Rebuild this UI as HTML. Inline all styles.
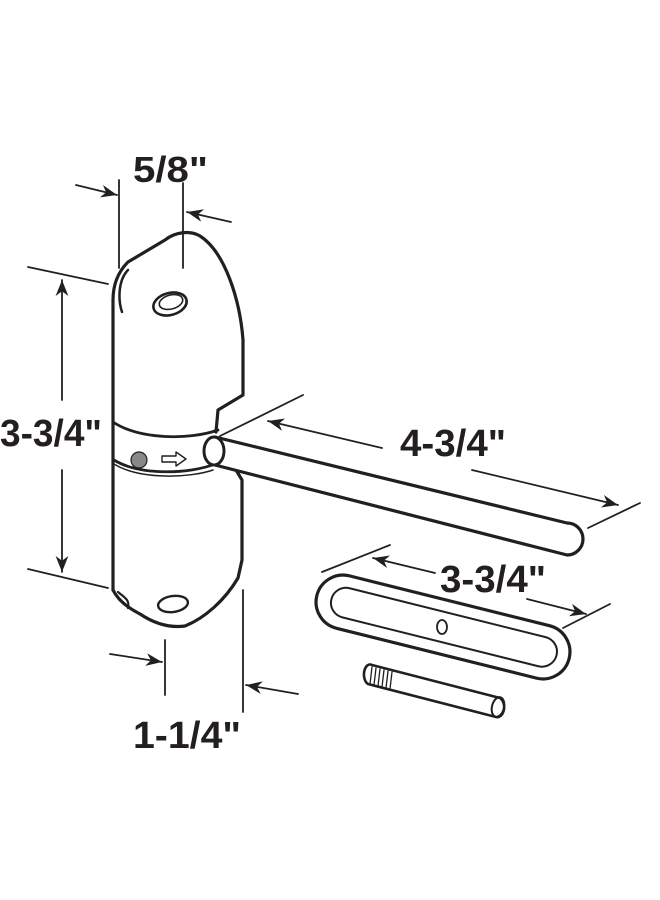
<!DOCTYPE html>
<html><head><style>
html,body{margin:0;padding:0;background:#fff;}
svg{display:block;}
text{font-family:"Liberation Sans",sans-serif;font-weight:bold;fill:#231f20;}
</style></head><body>
<svg width="660" height="900" viewBox="0 0 660 900" xmlns="http://www.w3.org/2000/svg">
<defs>
<marker id="ah2" viewBox="0 0 10 10" refX="10" refY="5" markerWidth="16" markerHeight="16" markerUnits="userSpaceOnUse" orient="auto">
<path d="M0,1 L10,5 L0,9 L3,5 z" fill="#231f20"/>
</marker>
</defs>
<g stroke="#231f20" fill="none" stroke-linecap="round" stroke-linejoin="round">
<!-- body -->
<path d="M113,590 L113,300 C113,285 118,272 128,262 L165,240 C175,232 190,230 200,236 C225,252 240,300 243,340 L243,395 L218,410 L216,432" stroke-width="3.2" fill="#fff"/>
<path d="M128,270 C118,280 118,300 122,312" stroke-width="2.5"/>
<!-- collar -->
<path d="M113,422 C140,440 190,440 218,430" stroke-width="2.8"/>
<path d="M114,460 C140,476 190,474 215,464" stroke-width="2.8"/>
<path d="M114,464 C140,480 190,478 213,470" stroke-width="1.5"/>
<!-- lower body -->
<path d="M113,590 C118,600 128,608 140,614 C155,624 170,628 185,626 C205,618 225,600 238,578 L242,560 L242,480 L236,470" stroke-width="3.2"/>
<path d="M118,592 C125,598 130,600 128,608" stroke-width="2.2"/>
<!-- holes -->
<ellipse cx="170" cy="304" rx="17" ry="11" transform="rotate(-15 170 304)" stroke-width="2.6"/>
<ellipse cx="171" cy="302" rx="12" ry="7" transform="rotate(-15 171 302)" stroke-width="1.6"/>
<ellipse cx="173" cy="604" rx="15" ry="8" transform="rotate(-8 173 604)" stroke-width="2.4"/>
<circle cx="139" cy="460" r="8" fill="#888" stroke-width="1.2"/>
<path d="M162,456 L176,456 L176,452 L186,459 L176,466 L176,462 L162,462 z" stroke-width="1.4" fill="#fff"/>
<!-- rod -->
<path d="M215,437 L567,523 A16,16 0 0 1 567,555 L215,465" stroke-width="3.2" fill="#fff"/>
<ellipse cx="214" cy="451" rx="10" ry="14" stroke-width="3" fill="#fff"/>
<!-- clip -->
<g transform="rotate(14 443 627)">
<rect x="313" y="600" width="260" height="54" rx="27" stroke-width="3.2" fill="#fff"/>
<rect x="328" y="612" width="232" height="30" rx="15" stroke-width="2"/>
</g>
<ellipse cx="442" cy="627" rx="5" ry="7" stroke-width="1.8"/>
<!-- screw -->
<path d="M372,665 L500,698 A7,10 0 0 1 496,717 L368,684 A6,10 0 0 1 372,665 z" stroke-width="2.6" fill="#fff"/>
<ellipse cx="498" cy="707" rx="6" ry="10" transform="rotate(14 498 707)" stroke-width="2"/>
<g stroke-width="1.3"><path d="M372,667 L370,684 M376,668 L374,685 M380,669 L378,686 M384,670 L382,687 M388,671 L386,688 M392,672 L390,689"/></g>
<!-- dimension lines -->
<g stroke-width="1.8">
<line x1="28" y1="267" x2="108" y2="284"/>
<line x1="28" y1="569" x2="108" y2="588"/>
<line x1="62" y1="400" x2="62" y2="280" marker-end="url(#ah2)"/>
<line x1="62" y1="470" x2="62" y2="572" marker-end="url(#ah2)"/>
<line x1="119" y1="180" x2="119" y2="268"/>
<line x1="183" y1="183" x2="183" y2="268"/>
<line x1="76" y1="185" x2="117" y2="195" marker-end="url(#ah2)"/>
<line x1="231" y1="222" x2="187" y2="212" marker-end="url(#ah2)"/>
<line x1="165" y1="640" x2="165" y2="695"/>
<line x1="243" y1="590" x2="243" y2="712"/>
<line x1="110" y1="654" x2="162" y2="662" marker-end="url(#ah2)"/>
<line x1="298" y1="694" x2="246" y2="685" marker-end="url(#ah2)"/>
<line x1="220" y1="436" x2="303" y2="395"/>
<line x1="588" y1="528" x2="640" y2="503"/>
<line x1="382" y1="448" x2="268" y2="421" marker-end="url(#ah2)"/>
<line x1="472" y1="470" x2="618" y2="505" marker-end="url(#ah2)"/>
<line x1="322" y1="572" x2="390" y2="545"/>
<line x1="563" y1="628" x2="610" y2="604"/>
<line x1="435" y1="573" x2="373" y2="558" marker-end="url(#ah2)"/>
<line x1="527" y1="599" x2="586" y2="614" marker-end="url(#ah2)"/>
</g>
</g>
<text x="133" y="182" font-size="36" textLength="75" lengthAdjust="spacingAndGlyphs">5/8"</text>
<text x="0" y="446" font-size="38" textLength="102" lengthAdjust="spacingAndGlyphs">3-3/4"</text>
<text x="133" y="748" font-size="38" textLength="108" lengthAdjust="spacingAndGlyphs">1-1/4"</text>
<text x="400" y="456" font-size="38" textLength="106" lengthAdjust="spacingAndGlyphs">4-3/4"</text>
<text x="440" y="592" font-size="38" textLength="106" lengthAdjust="spacingAndGlyphs">3-3/4"</text>
</svg>
</body></html>
